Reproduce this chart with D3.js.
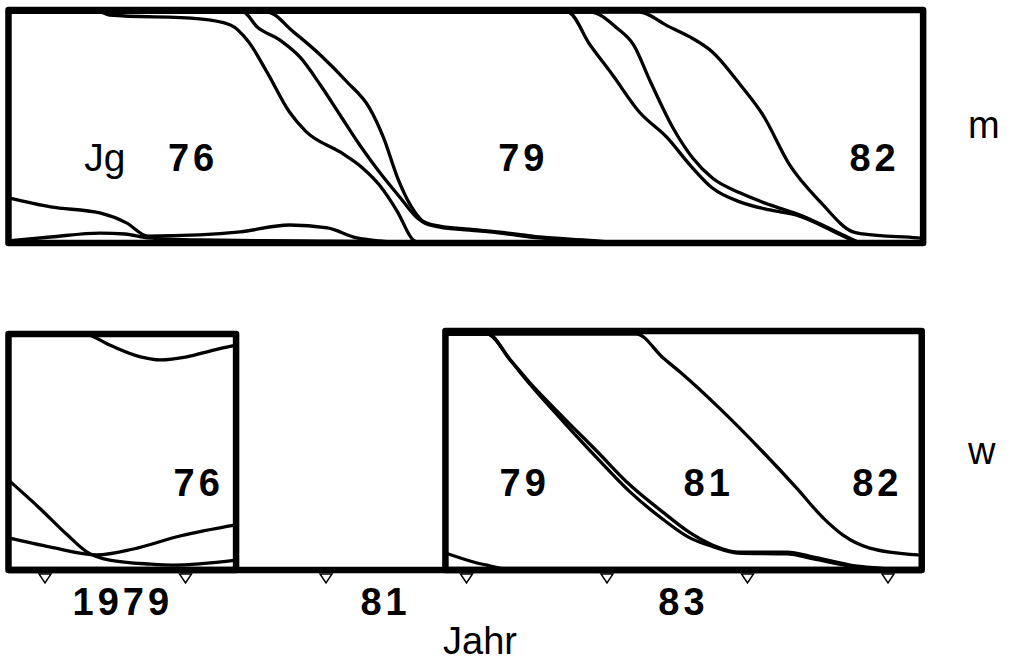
<!DOCTYPE html>
<html><head><meta charset="utf-8">
<script src="https://cdn.jsdelivr.net/npm/d3@7"></script>
<style>html,body{margin:0;padding:0;background:#fff;}svg{display:block;}</style>
</head><body><svg id="c" width="1014" height="663"></svg>
<script>
// ---- axis ----
const tickYears = [1979, 1980, 1981, 1982, 1983, 1984, 1985];
const axisLabels = ["1979", "81", "83"];
const axisLabelYears = [1979.54, 1981.41, 1983.53];

// ---- panel spans (years) ----
const topSpan = [1978.74, 1985.25];
const leftSpan = [1978.74, 1980.36];
const rightSpan = [1981.85, 1985.24];

// ---- males (m): cumulative boundaries [year, proportion] ----
const m1 = [[1978.74,0.195],[1979.04,0.156],[1979.39,0.130],[1979.58,0.087],[1979.73,0.030],[1980.10,0.035],[1980.39,0.048],[1980.74,0.078],[1981.01,0.065],[1981.22,0.022],[1981.38,0.009],[1981.67,0]];
const m2 = [[1978.74,0.009],[1979.04,0.026],[1979.39,0.043],[1979.57,0.039],[1979.73,0.022],[1980.10,0.013],[1980.82,0.009],[1981.53,0.004],[1981.67,0]];
const m3 = [[1978.74,1],[1979.39,1],[1979.46,0.987],[1980.10,0.970],[1980.32,0.944],[1980.45,0.870],[1980.58,0.740],[1980.74,0.567],[1980.86,0.481],[1981.10,0.394],[1981.26,0.325],[1981.38,0.251],[1981.51,0.134],[1981.62,0.013],[1981.67,0]];
const m4 = [[1978.74,1],[1980.41,1],[1980.51,0.935],[1980.67,0.879],[1980.82,0.801],[1980.96,0.684],[1981.10,0.554],[1981.24,0.424],[1981.38,0.307],[1981.53,0.195],[1981.65,0.108],[1981.69,0.091],[1981.81,0.069],[1982.02,0.056],[1982.24,0.043],[1982.52,0.022],[1982.88,0.009],[1983.10,0]];
const m5 = [[1978.74,1],[1980.58,1],[1980.77,0.913],[1980.96,0.814],[1981.15,0.697],[1981.31,0.584],[1981.41,0.455],[1981.51,0.281],[1981.60,0.165],[1981.69,0.095],[1981.81,0.073],[1982.02,0.060],[1982.24,0.047],[1982.52,0.026],[1982.88,0.011],[1983.10,0]];
const m6 = [[1978.74,1],[1982.72,1],[1982.88,0.857],[1983.04,0.727],[1983.23,0.567],[1983.43,0.455],[1983.59,0.338],[1983.75,0.238],[1983.95,0.177],[1984.16,0.143],[1984.35,0.121],[1984.71,0.022],[1984.80,0]];
const m7 = [[1978.74,1],[1982.88,1],[1983.07,0.931],[1983.19,0.857],[1983.31,0.697],[1983.47,0.498],[1983.61,0.368],[1983.75,0.281],[1983.95,0.216],[1984.16,0.165],[1984.35,0.126],[1984.71,0.026],[1984.80,0]];
const m8 = [[1978.74,1],[1983.23,1],[1983.43,0.940],[1983.59,0.892],[1983.75,0.827],[1983.95,0.684],[1984.11,0.554],[1984.30,0.338],[1984.52,0.177],[1984.75,0.048],[1984.82,0.039],[1985.21,0.022],[1985.25,0.020]];

// ---- females (w), 1979-80 box ----
const w1 = [[1978.74,1],[1979.28,1],[1979.46,0.953],[1979.68,0.903],[1979.82,0.890],[1980.01,0.903],[1980.20,0.932],[1980.36,0.953]];
const w2 = [[1978.74,0.381],[1978.96,0.263],[1979.16,0.148],[1979.30,0.076],[1979.46,0.042],[1979.75,0.025],[1979.91,0.021],[1980.36,0.042]];
const w3 = [[1978.74,0.136],[1979.04,0.097],[1979.37,0.064],[1979.63,0.089],[1979.96,0.144],[1980.36,0.191]];
// ---- females (w), 1982-85 box ----
const r0 = [[1981.85,0.072],[1982.05,0.034],[1982.17,0.017],[1982.30,0]];
const r1 = [[1981.85,1],[1982.15,1],[1982.31,0.890],[1982.45,0.788],[1982.69,0.628],[1982.93,0.474],[1983.16,0.333],[1983.40,0.214],[1983.59,0.136],[1983.75,0.100],[1983.93,0.072],[1984.28,0.068],[1984.47,0.047],[1984.73,0.017],[1984.94,0.004],[1985.12,0]];
const r2 = [[1981.85,1],[1982.15,1],[1982.31,0.892],[1982.45,0.794],[1982.69,0.646],[1982.93,0.502],[1983.16,0.362],[1983.40,0.244],[1983.59,0.158],[1983.75,0.106],[1983.93,0.076],[1984.28,0.076],[1984.47,0.055],[1984.73,0.021],[1984.94,0.008],[1985.12,0]];
const r3 = [[1981.85,1],[1983.21,1],[1983.40,0.898],[1983.52,0.839],[1983.80,0.686],[1984.11,0.500],[1984.35,0.347],[1984.54,0.220],[1984.68,0.148],[1984.87,0.093],[1985.21,0.064]];

// ---- cohort labels ----
const topCohorts = ["76", "79", "82"];
const topCohortYears = [1980.04, 1982.39, 1984.89];
const botCohorts = ["76", "79", "81", "82"];
const botCohortYears = [1980.08, 1982.40, 1983.71, 1984.91];
const cohortLabelLevel = 0.312;

// ---- drawing ----
const svg = d3.select("#c");
const FONT = "'Liberation Sans', Arial, Helvetica, sans-serif";
const x = d3.scaleLinear().domain([1979, 1985]).range([45, 888]);
const yTop = d3.scaleLinear().domain([0, 1]).range([243, 12]);
const yBot = d3.scaleLinear().domain([0, 1]).range([570, 334]);

function drawLines(series, y, span, id) {
  svg.append("clipPath").attr("id", id).append("rect")
    .attr("x", x(span[0])).attr("y", y(1) - 2)
    .attr("width", x(span[1]) - x(span[0])).attr("height", y(0) - y(1) + 4);
  const line = d3.line().x(d => x(d[0])).y(d => y(d[1])).curve(d3.curveMonotoneX);
  svg.append("g").attr("clip-path", `url(#${id})`)
    .selectAll("path").data(series).join("path")
    .attr("d", line).attr("fill", "none").attr("stroke", "#000")
    .attr("stroke-width", 3.3).attr("stroke-linejoin", "round").attr("stroke-linecap", "round");
}
drawLines([m1, m2, m3, m4, m5, m6, m7, m8], yTop, topSpan, "cTop");
drawLines([w1, w2, w3], yBot, leftSpan, "cLeft");
drawLines([r0, r1, r2, r3], yBot, rightSpan, "cRight");

function frame(span, y0, y1) {
  svg.append("rect").attr("x", x(span[0])).attr("y", y0)
    .attr("width", x(span[1]) - x(span[0])).attr("height", y1 - y0)
    .attr("fill", "none").attr("stroke", "#000").attr("stroke-width", 6.5)
    .attr("stroke-linejoin", "round");
}
frame(topSpan, 10, 243);
frame(leftSpan, 334, 570);
frame(rightSpan, 331, 570);

// baseline
svg.append("line").attr("x1", x(topSpan[0])).attr("x2", x(rightSpan[1]))
  .attr("y1", 570).attr("y2", 570).attr("stroke", "#000").attr("stroke-width", 6.5);

// tick triangles
svg.selectAll("path.tick").data(tickYears).join("path").attr("class", "tick")
  .attr("d", d => `M${x(d) - 6},574 L${x(d) + 6},574 L${x(d)},583 Z`)
  .attr("fill", "#fff").attr("stroke", "#000").attr("stroke-width", 1.5);

const LS = 4;
function boldLabel(txt, cx, by) {
  svg.append("text").attr("x", cx + LS / 2).attr("y", by).attr("text-anchor", "middle")
    .attr("font-family", FONT).attr("font-weight", "bold").attr("font-size", 38)
    .attr("letter-spacing", LS).text(txt);
}
axisLabels.forEach((t, i) => boldLabel(t, x(axisLabelYears[i]), 615));
topCohorts.forEach((t, i) => boldLabel(t, x(topCohortYears[i]), yTop(cohortLabelLevel)));
botCohorts.forEach((t, i) => boldLabel(t, x(botCohortYears[i]), yBot(cohortLabelLevel)));

function plainLabel(txt, px, by, size) {
  svg.append("text").attr("x", px).attr("y", by)
    .attr("font-family", FONT).attr("font-size", size).text(txt);
}
plainLabel("Jg", x(1979.28), yTop(cohortLabelLevel), 39);
plainLabel("m", 968, 138, 38);
plainLabel("w", 968, 464, 38);
plainLabel("Jahr", 443, 654, 38);
</script></body></html>
